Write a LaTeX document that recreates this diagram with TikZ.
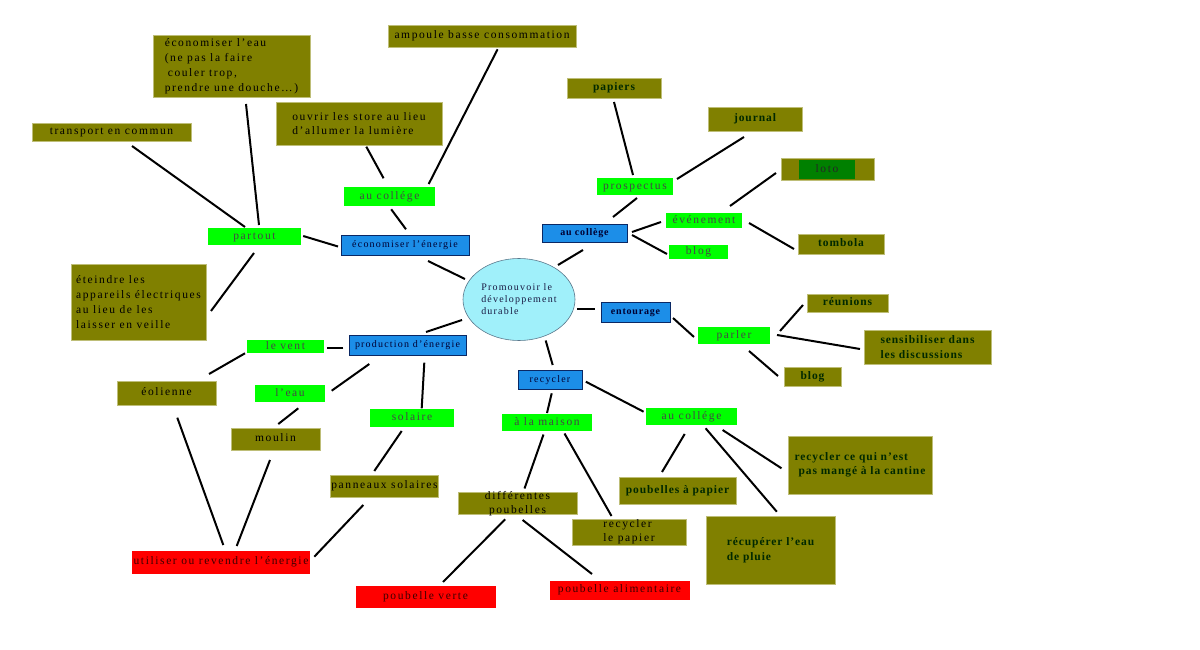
\documentclass[tikz,border=0pt]{standalone}
\usepackage{fontspec}
\setmainfont{Liberation Serif}
\newfontfamily\tf[LetterSpace=14]{Liberation Serif}
\newfontfamily\tfb[LetterSpace=8]{Liberation Serif}
\newfontfamily\tfs[LetterSpace=12]{Liberation Serif}
\usetikzlibrary{shapes.geometric}
\definecolor{olivebg}{RGB}{128,128,0}
\definecolor{oliveedge}{RGB}{190,190,120}
\definecolor{greenbg}{RGB}{0,255,0}
\definecolor{bluebg}{RGB}{28,142,232}
\definecolor{blueedge}{RGB}{10,40,100}
\definecolor{redbg}{RGB}{255,0,0}
\definecolor{cyanbg}{RGB}{160,240,250}
\definecolor{cyanedge}{RGB}{90,120,140}
\definecolor{lotobg}{RGB}{0,128,0}
\definecolor{dgtext}{RGB}{0,40,0}
\definecolor{graytext}{RGB}{70,70,70}
\definecolor{navytext}{RGB}{0,0,50}
\definecolor{redtext}{RGB}{60,0,0}
\newcommand\cn[4]{\draw[conn] ([shift={#2}]#1.center) -- ([shift={#4}]#3.center);}
\begin{document}
\begin{tikzpicture}[x=1pt,y=-1pt,
  box/.style={rectangle, inner sep=0pt, anchor=center},
  sl/.style={text height=8pt, text depth=2.5pt},
  oli/.style={box, fill=olivebg, draw=oliveedge, line width=0.5pt, font=\tf\fontsize{11.5}{15}\selectfont, text=black},
  olib/.style={oli, font=\tfb\bfseries\fontsize{11.5}{15}\selectfont, text=dgtext},
  grn/.style={box, sl, fill=greenbg, font=\tf\fontsize{11.5}{14}\selectfont, text=graytext},
  blu/.style={box, fill=bluebg, draw=blueedge, line width=0.6pt, font=\tfs\fontsize{10}{12}\selectfont, text=navytext, text height=7pt, text depth=2pt},
  blub/.style={blu, font=\tfb\bfseries\fontsize{10}{12}\selectfont},
  rd/.style={box, sl, fill=redbg, font=\tf\fontsize{11.5}{14}\selectfont, text=redtext},
  conn/.style={line width=2pt, black}]
\useasboundingbox[fill=white] (0,0) rectangle (1200,650);

% olive boxes
\node[oli, minimum width=157, minimum height=62, align=left] (eau1) at (231.5,66) {économiser l’eau\\(ne pas la faire\\\hspace{3pt}couler trop,\\prendre une douche…)};
\node[oli, sl, minimum width=188, minimum height=22] (amp) at (482,36) {ampoule basse consommation};
\node[oli, sl, minimum width=159, minimum height=18] (transp) at (111.5,132) {transport en commun};
\node[oli, minimum width=166, minimum height=43, align=left, font=\tf\fontsize{11.5}{14}\selectfont] (ouvrir) at (359,123.5) {ouvrir les store au lieu\\d’allumer la lumière};
\node[olib, sl, minimum width=94, minimum height=20] (papiers) at (614,88) {papiers};
\node[olib, sl, minimum width=94, minimum height=24] (journal) at (755,119) {journal};
\node[oli, minimum width=93, minimum height=22] (lotoo) at (827.5,169) {};
\node[box, sl, fill=lotobg, minimum width=56, minimum height=19, font=\tf\fontsize{11.5}{14}\selectfont, text=black!85] (loto) at (827,169.5) {loto};
\node[olib, sl, minimum width=86, minimum height=20] (tombola) at (841,244) {tombola};
\node[oli, minimum width=135, minimum height=76, align=left] (eteindre) at (138.5,302) {éteindre les\\appareils électriques\\au lieu de les\\laisser en veille};
\node[olib, sl, minimum width=81, minimum height=18] (reunions) at (847.5,303) {réunions};
\node[olib, minimum width=127, minimum height=34, align=left] (sensib) at (927.5,347) {sensibiliser dans\\les discussions};
\node[olib, sl, minimum width=57, minimum height=19] (blogb) at (812.5,376.5) {blog};
\node[oli, sl, minimum width=99, minimum height=24] (eolienne) at (166.5,393) {éolienne};
\node[oli, sl, minimum width=89, minimum height=22] (moulin) at (275.5,439) {moulin};
\node[olib, minimum width=144, minimum height=58, align=left, font=\tfb\bfseries\fontsize{11.5}{14}\selectfont] (cantine) at (860,465) {recycler ce qui n’est\\\hspace{4pt}pas mangé à la cantine};
\node[oli, sl, minimum width=108, minimum height=22] (panneaux) at (384.5,486) {panneaux solaires};
\node[olib, sl, minimum width=117, minimum height=27] (poubpap) at (677.5,490.5) {poubelles à papier};
\node[oli, minimum width=119, minimum height=22] (diff) at (517.5,503) {};
\node[font=\tf\fontsize{11.5}{14}\selectfont, align=center, inner sep=0pt] (difft) at (517.5,503.5) {différentes\\poubelles};
\node[oli, minimum width=114, minimum height=26, align=left, font=\tf\fontsize{11.5}{14}\selectfont] (recpap) at (629,532) {recycler\\le papier};
\node[olib, minimum width=129, minimum height=68, align=left] (recup) at (770.5,550) {récupérer l’eau\\de pluie};

% green boxes
\node[grn, minimum width=91, minimum height=19] (col1) at (389.5,196.5) {au collége};
\node[grn, minimum width=76, minimum height=17] (prosp) at (635,186.5) {prospectus};
\node[grn, minimum width=93, minimum height=17] (partout) at (254.5,236.5) {partout};
\node[grn, minimum width=76, minimum height=15] (evenement) at (704,220.5) {événement};
\node[grn, minimum width=59, minimum height=14] (blog1) at (698.5,252) {blog};
\node[grn, minimum width=72, minimum height=17] (parler) at (734,335.5) {parler};
\node[grn, minimum width=77, minimum height=13] (levent) at (285.5,346.5) {le vent};
\node[grn, minimum width=70, minimum height=17] (leau) at (290,393.5) {l’eau};
\node[grn, minimum width=84, minimum height=18] (solaire) at (412,418) {solaire};
\node[grn, minimum width=90, minimum height=17] (maison) at (547,422.5) {à la maison};
\node[grn, minimum width=91, minimum height=17] (col3) at (691.5,416.5) {au collége};

% blue boxes
\node[blu, minimum width=128, minimum height=20] (ecoener) at (405,245) {économiser l’énergie};
\node[blub, minimum width=85, minimum height=18] (col2) at (584.5,233) {au collège};
\node[blub, minimum width=69, minimum height=20] (entourage) at (635.5,312) {entourage};
\node[blu, minimum width=117, minimum height=20] (production) at (407.5,345) {production d’énergie};
\node[blu, minimum width=64, minimum height=19] (recycler) at (550,379.5) {recycler};

% red boxes
\node[rd, minimum width=178, minimum height=23] (utiliser) at (221,562) {utiliser ou revendre l’énergie};
\node[rd, minimum width=140, minimum height=22] (pverte) at (425.5,597) {poubelle verte};
\node[rd, minimum width=140, minimum height=19] (palim) at (619.5,590) {poubelle alimentaire};

% centre
\node[ellipse, inner sep=0pt, minimum width=112, minimum height=82, fill=cyanbg, draw=cyanedge, line width=0.6pt, align=left, font=\tfs\fontsize{10}{12}\selectfont, text=navytext!80!gray] (E) at (519,299.5) {Promouvoir le\\développement\\durable};

% connectors
\cn{transp}{(20.5,14)}{partout}{(-9.5,-9.5)}
\cn{eau1}{(14.5,38)}{partout}{(4.5,-11.5)}
\cn{partout}{(48.7,-0.5)}{ecoener}{(-67,1.5)}
\cn{eteindre}{(72.5,9)}{partout}{(-0.5,16.5)}
\cn{col1}{(-5.9,-18.2)}{ouvrir}{(7.3,23.2)}
\cn{col1}{(39.2,-12.5)}{amp}{(15.6,13.3)}
\cn{col1}{(1.7,12.8)}{ecoener}{(1,-15.7)}
\cn{ecoener}{(23,16)}{E}{(-54,-20.5)}
\cn{papiers}{(0,14)}{prosp}{(-2,-11.5)}
\cn{prosp}{(42,-7.5)}{journal}{(-11,18)}
\cn{prosp}{(2,11.5)}{col2}{(28.5,-16)}
\cn{col2}{(-1.5,17)}{E}{(39,-34.5)}
\cn{col2}{(47.5,-1)}{evenement}{(-43,1.5)}
\cn{col2}{(47.5,2)}{blog1}{(-31.5,2)}
\cn{evenement}{(26,-14.5)}{lotoo}{(-51.5,4)}
\cn{evenement}{(45,2.5)}{tombola}{(-47,5)}
\cn{E}{(58,9.5)}{entourage}{(-40.5,-3)}
\cn{entourage}{(37.5,6)}{parler}{(-40,1.5)}
\cn{parler}{(46,-4.5)}{reunions}{(-44.5,2)}
\cn{parler}{(43,-0.5)}{sensib}{(-67.5,2)}
\cn{parler}{(15,15.5)}{blogb}{(-34.5,-0.5)}
\cn{E}{(-57,20.5)}{production}{(18.5,-13)}
\cn{production}{(-64.2,3.3)}{levent}{(41.2,1.8)}
\cn{levent}{(-40.5,6.8)}{eolienne}{(42.5,-19)}
\cn{production}{(-38.2,19)}{leau}{(41.7,-2.8)}
\cn{production}{(16.8,17.7)}{solaire}{(9.7,-9.7)}
\cn{leau}{(8.3,14.8)}{moulin}{(2.8,-15)}
\cn{eolienne}{(10.8,24.7)}{utiliser}{(2.3,-17)}
\cn{moulin}{(-5.5,21)}{utiliser}{(15.7,-16)}
\cn{solaire}{(-10.3,13)}{panneaux}{(-10.2,-15)}
\cn{panneaux}{(-21.2,19)}{utiliser}{(93.3,-5.3)}
\cn{E}{(26.7,41)}{recycler}{(2.7,-14.5)}
\cn{recycler}{(1.7,13.8)}{maison}{(0,-9.5)}
\cn{recycler}{(35.8,2.2)}{col3}{(-47.9,-4.8)}
\cn{maison}{(-3.5,12)}{diff}{(7,-14.5)}
\cn{maison}{(17.5,11)}{recpap}{(-17.5,-16)}
\cn{col3}{(-6.8,17.5)}{poubpap}{(-15.5,-18.5)}
\cn{col3}{(14.1,11.8)}{recup}{(6.3,-38.3)}
\cn{col3}{(31.1,13.5)}{cantine}{(-78.5,3.3)}
\cn{diff}{(-12.3,16.3)}{pverte}{(17.5,-15)}
\cn{diff}{(5.1,17)}{palim}{(-27.5,-16)}
\end{tikzpicture}
\end{document}
